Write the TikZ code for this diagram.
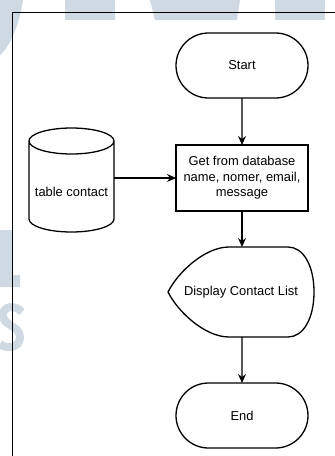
\documentclass[tikz,border=0pt]{standalone}
\usepackage{fontspec}
\setmainfont{Liberation Sans}
\usetikzlibrary{arrows.meta, positioning, shapes.misc}
\definecolor{wmcol}{RGB}{206,217,227}
\tikzset{%
	term/.style={draw, rounded rectangle, minimum width=132pt, minimum height=65pt,%
		inner sep=0pt, outer sep=0pt, line width=1.3pt},
	proc/.style={draw, rectangle, minimum width=132pt, minimum height=66pt,%
		inner sep=0pt, outer sep=0pt, align=center, line width=2pt},
	db/.style={minimum width=85pt, minimum height=104pt, inner sep=0pt, outer sep=0pt},
	disp/.style={minimum width=146pt, minimum height=90pt, inner sep=0pt, outer sep=0pt},
	outline/.style={line width=1.3pt},
	flow/.style={-{Stealth[length=9pt,width=8pt,inset=3pt]}, line width=1.2pt},
	wmark/.style={fill=wmcol, draw=none}
}

\begin{document}
\begin{tikzpicture}[x=1pt, y=-1pt, font=\fontsize{12.9pt}{15.5pt}\selectfont]
	\useasboundingbox (0,0) rectangle (335,456);

	% watermark behind the chart
	\fill[wmark] (0,0) -- (23,0) .. controls (20,20) and (12,45) .. (0,55) -- cycle;
	\fill[wmark] (65,0) rectangle (115,20);
	\fill[wmark] (150,0) -- (240,0) -- (237,20) -- (155,20) -- cycle;
	\fill[wmark] (275,0) rectangle (325,20);
	\fill[wmark] (0,230) -- (13,230) -- (13,275) -- (20,275) -- (20,287) -- (0,287) -- cycle;
	\draw[wmcol, line width=8pt] (22,312) .. controls (15,304) and (2,306) .. (3,316)
		.. controls (4,326) and (20,326) .. (20,337) .. controls (20,349) and (5,349) .. (0,344);

	% frame
	\draw[line width=1pt] (12,456) -- (12,12) -- (335,12);

	\node[term] (start) at (242,65.5) {Start};
	\node[proc, below=47pt of start] (get) {Get from database\\name, nomer, email,\\message};
	\node[db, left=62pt of get, yshift=-2pt, label={[yshift=-12pt]center:table contact}] (tbl) {};
	\node[disp, below=36pt of get, xshift=-1pt] (show) {Display Contact List};
	\node[term, below=46pt of show, xshift=1pt] (end) {End};

	% cylinder
	\draw[outline] ([yshift=-13pt]tbl.north west) -- ([yshift=13pt]tbl.south west)
		arc[start angle=180, end angle=360, x radius=42.5pt, y radius=13pt]
		-- ([yshift=-13pt]tbl.north east)
		arc[start angle=0, end angle=360, x radius=42.5pt, y radius=13pt];

	% display shape
	\draw[outline] (show.west)
		.. controls ([xshift=10pt, yshift=20pt]show.west) and ([xshift=37pt]show.north west)
		.. ([xshift=61pt]show.north west) -- ([xshift=-26pt]show.north east)
		.. controls ([xshift=-11pt]show.north east) and ([yshift=27pt]show.east) .. (show.east)
		.. controls ([yshift=-27pt]show.east) and ([xshift=-11pt]show.south east)
		.. ([xshift=-26pt]show.south east) -- ([xshift=61pt]show.south west)
		.. controls ([xshift=37pt]show.south west) and ([xshift=10pt, yshift=-20pt]show.west)
		.. (show.west) -- cycle;

	\draw[flow] (start) -- (get);
	\draw[flow] (tbl.east |- get.west) -- (get.west);
	\draw[flow] (get.south) -- (get.south |- show.north);
	\draw[flow] (show.south -| end.north) -- (end);
\end{tikzpicture}
\end{document}
